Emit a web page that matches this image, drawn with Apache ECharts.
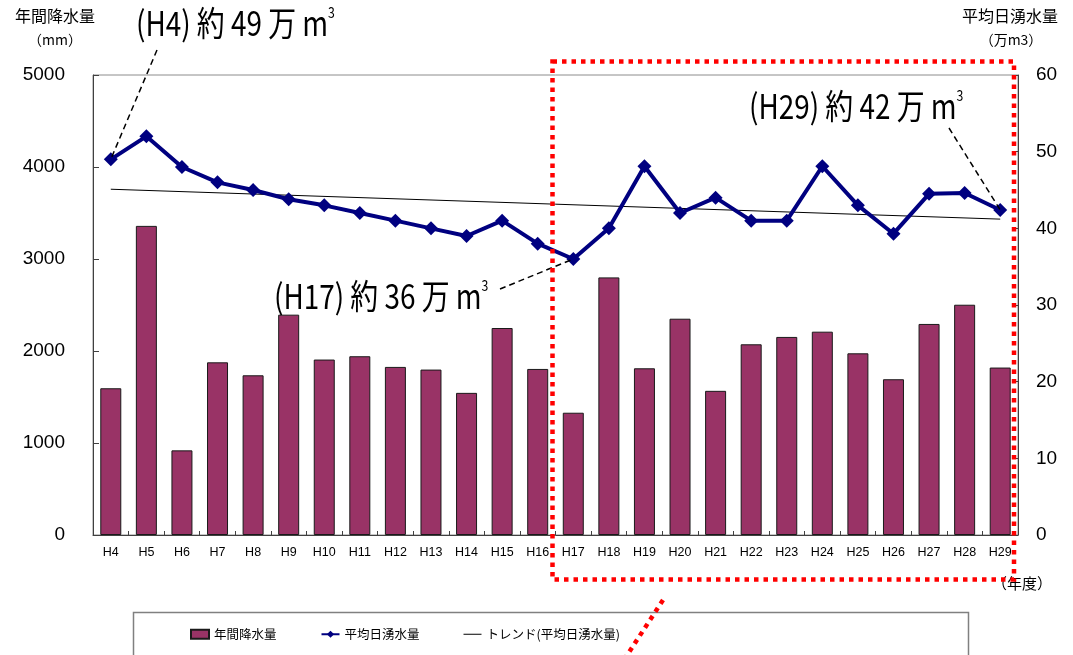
<!DOCTYPE html>
<html>
<head>
<meta charset="utf-8">
<script src="https://cdn.jsdelivr.net/npm/echarts@6/dist/echarts.min.js"></script>
<style>
  html, body { margin: 0; padding: 0; background: #fff; }
  #chart { width: 1073px; height: 655px; }
</style>
</head>
<body>
<div id="chart"></div>
<script>
// Fiscal years (Heisei)
const years = ['H4','H5','H6','H7','H8','H9','H10','H11','H12','H13','H14','H15','H16',
               'H17','H18','H19','H20','H21','H22','H23','H24','H25','H26','H27','H28','H29'];
// Annual precipitation (mm)
const rainfall = [1595, 3360, 920, 1877, 1736, 2395, 1907, 1943, 1827, 1798, 1545, 2250, 1805,
                  1329, 2800, 1812, 2351, 1567, 2073, 2153, 2210, 1975, 1693, 2294, 2503, 1820];
// Average daily spring water volume (10,000 m3)
const springFlow = [49, 52, 48, 46, 45, 43.8, 43, 42, 41, 40, 39, 41, 38,
                    36, 40, 48.1, 42, 44, 41, 41, 48.1, 43, 39.3, 44.5, 44.6, 42.4];
// Trend line of the spring water volume at the first and last year
const trendEnds = [45.1, 41.2];
// Left / right axis ticks
const leftTicks = { min: 0, max: 5000, interval: 1000 };
const rightTicks = { min: 0, max: 60, interval: 10 };

const JP = '"Noto Sans CJK JP", "Noto Sans", sans-serif';
const NUM = '"Liberation Sans", Arial, sans-serif';

const chart = echarts.init(document.getElementById('chart'), null, { renderer: 'canvas' });

const option = {
  backgroundColor: '#ffffff',
  animation: false,
  grid: { left: 93, right: 55, top: 75, bottom: 120, show: true, borderColor: '#8c8c8c', borderWidth: 1 },
  legend: {
    left: 190, top: 628, padding: 0,
    itemWidth: 18, itemHeight: 9, itemGap: 44,
    textStyle: { fontFamily: JP, fontSize: 12.5, color: '#000' },
    data: [
      { name: '年間降水量', icon: 'rect' },
      { name: '平均日湧水量' },
      { name: 'トレンド(平均日湧水量)', icon: 'path://M0,0 L18,0 L18,1 L0,1 Z' }
    ]
  },
  xAxis: {
    type: 'category',
    data: years,
    axisLine: { lineStyle: { color: '#404040', width: 1 } },
    axisTick: { show: true, inside: true, length: 4, lineStyle: { color: '#404040' } },
    axisLabel: { interval: 0, fontFamily: NUM, fontSize: 12.5, color: '#000', margin: 11 }
  },
  yAxis: [
    {
      type: 'value', ...leftTicks, position: 'left',
      axisLine: { show: true, lineStyle: { color: '#404040', width: 1 } },
      axisTick: { show: true, inside: true, length: 6, lineStyle: { color: '#404040' } },
      splitLine: { show: false },
      axisLabel: { fontFamily: NUM, fontSize: 19, color: '#000', margin: 28, formatter: v => String(v) }
    },
    {
      type: 'value', ...rightTicks, position: 'right',
      axisLine: { show: true, lineStyle: { color: '#404040', width: 1 } },
      axisTick: { show: true, inside: true, length: 6, lineStyle: { color: '#404040' } },
      splitLine: { show: false },
      axisLabel: { fontFamily: NUM, fontSize: 19, color: '#000', margin: 18, formatter: v => String(v) }
    }
  ],
  series: [
    {
      name: '年間降水量', type: 'bar', yAxisIndex: 0, data: rainfall,
      barWidth: 21,
      itemStyle: { color: '#993366', borderColor: '#1a1a1a', borderWidth: 1 },
      z: 2
    },
    {
      name: 'トレンド(平均日湧水量)', type: 'line', yAxisIndex: 1,
      data: [[years[0], trendEnds[0]], [years[years.length - 1], trendEnds[1]]],
      symbol: 'none',
      lineStyle: { color: '#000', width: 1 },
      itemStyle: { color: '#000' },
      z: 3
    },
    {
      name: '平均日湧水量', type: 'line', yAxisIndex: 1, data: springFlow,
      symbol: 'diamond', symbolSize: 14,
      lineStyle: { color: '#000080', width: 4 },
      itemStyle: { color: '#000080' },
      z: 4
    }
  ]
};
chart.setOption(option);

// Annotation texts (condensed large type) with superscript unit
function note(x, y, label) {
  return {
    type: 'text', x: x, y: y, scaleX: 0.82, z: 20,
    style: {
      text: '{a|' + label + ' m}{s|3}',
      verticalAlign: 'middle',
      rich: {
        a: { fontFamily: JP, fontSize: 34, color: '#000', lineHeight: 36 },
        s: { fontFamily: JP, fontSize: 15, color: '#000', verticalAlign: 'top', lineHeight: 36 }
      }
    }
  };
}

const pH4 = chart.convertToPixel({ xAxisIndex: 0, yAxisIndex: 1 }, [0, springFlow[0]]);
const pH17 = chart.convertToPixel({ xAxisIndex: 0, yAxisIndex: 1 }, [13, springFlow[13]]);
const pH29 = chart.convertToPixel({ xAxisIndex: 0, yAxisIndex: 1 }, [25, springFlow[25]]);

const dash = { stroke: '#000', lineWidth: 1.5, lineDash: [6, 4] };
const red = { stroke: '#ff0000', lineWidth: 4.5, lineDash: [4.5, 5], fill: null };

chart.setOption({
  graphic: [
    // axis titles
    { type: 'text', x: 55, y: 16, style: { text: '年間降水量', fontFamily: JP, fontSize: 16, fill: '#000', align: 'center', verticalAlign: 'middle' } },
    { type: 'text', x: 55, y: 40, style: { text: '（mm）', fontFamily: JP, fontSize: 14, fill: '#000', align: 'center', verticalAlign: 'middle' } },
    { type: 'text', x: 1010, y: 16, style: { text: '平均日湧水量', fontFamily: JP, fontSize: 16, fill: '#000', align: 'center', verticalAlign: 'middle' } },
    { type: 'text', x: 1011, y: 40, style: { text: '（万m3）', fontFamily: JP, fontSize: 14, fill: '#000', align: 'center', verticalAlign: 'middle' } },
    { type: 'text', x: 1022, y: 583, style: { text: '（年度）', fontFamily: JP, fontSize: 15, fill: '#000', align: 'center', verticalAlign: 'middle' } },
    // legend frame
    { type: 'rect', shape: { x: 133.5, y: 612.5, width: 835, height: 60 }, style: { fill: null, stroke: '#808080', lineWidth: 1.5 }, z: 1 },
    // highlighted period frame
    { type: 'rect', shape: { x: 552.5, y: 61.5, width: 461.5, height: 518 }, style: red, z: 30 },
    { type: 'line', shape: { x1: 663, y1: 600, x2: 624, y2: 660 }, style: { stroke: '#ff0000', lineWidth: 4.5, lineDash: [4.5, 5] }, z: 30 },
    // leader lines
    { type: 'line', shape: { x1: 157, y1: 50, x2: pH4[0], y2: pH4[1] }, style: dash, z: 15 },
    { type: 'line', shape: { x1: 500, y1: 289, x2: pH17[0], y2: pH17[1] }, style: dash, z: 15 },
    { type: 'line', shape: { x1: 949, y1: 128, x2: pH29[0], y2: pH29[1] }, style: dash, z: 15 },
    // value notes
    note(136, 23, '(H4) 約 49 万'),
    note(274, 296, '(H17) 約 36 万'),
    note(749, 106, '(H29) 約 42 万')
  ]
});
</script>
</body>
</html>
